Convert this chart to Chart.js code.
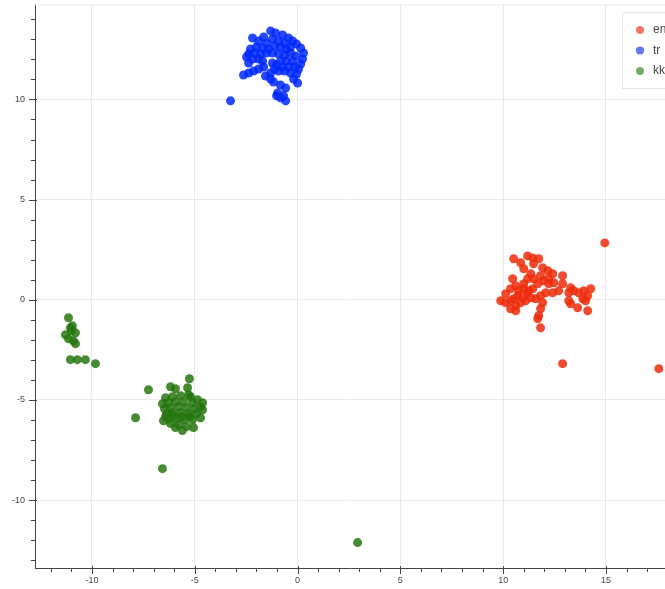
<!DOCTYPE html>
<html>
<head>
<meta charset="utf-8">
<script src="https://cdn.jsdelivr.net/npm/chart.js@4"></script>
<style>
html,body{margin:0;padding:0;background:#fff;}
#wrap{width:665px;height:589px;}
</style>
</head>
<body>
<div id="wrap"><canvas id="c" width="665" height="589"></canvas></div>
<script>
const seriesNames = ["en", "tr", "kk"];
const seriesColors = ["rgba(238,44,10,0.85)", "rgba(0,40,255,0.85)", "rgba(38,118,14,0.85)"];
const legendColors = ["rgba(238,60,40,0.7)", "rgba(30,60,240,0.7)", "rgba(60,140,40,0.7)"];

const enX = [14.94,10.51,11.19,11.44,11.73,10.85,11.00,11.48,11.92,12.17,12.41,12.46,12.21,11.97,11.82,12.89,12.89,13.28,13.43,13.67,13.92,14.26,14.11,13.87,13.19,13.19,13.28,13.62,14.01,14.11,12.70,12.41,12.07,11.82,11.92,11.82,11.73,11.68,11.82,11.58,11.34,11.19,11.44,11.00,11.00,10.46,10.61,10.36,10.12,9.88,10.12,10.36,10.51,10.71,10.75,10.95,10.85,10.61,10.36,10.61,11.09,11.24,11.68,11.48,12.21,11.34,11.19,12.89,17.57];
const enY = [2.84,2.05,2.19,2.09,2.05,1.85,1.55,1.80,1.60,1.45,1.30,0.85,0.80,0.95,1.20,1.20,0.80,0.60,0.45,0.35,0.45,0.55,0.20,0.05,0.35,-0.05,-0.20,-0.40,-0.05,-0.55,0.45,0.35,0.35,0.20,-0.15,-0.45,-0.80,-0.95,-1.40,0.05,0.10,0.35,0.55,0.55,0.80,1.05,0.70,0.55,0.30,-0.05,-0.15,-0.05,0.05,0.20,0.45,0.10,-0.15,-0.30,-0.45,-0.55,-0.05,0.45,0.80,1.05,1.05,1.30,1.05,-3.19,-3.44];

const trX = [-1.31,-1.07,-0.73,-0.44,-0.24,-0.05,0.15,0.29,0.24,0.15,0.05,-0.05,-0.19,0.00,-2.19,-1.90,-1.65,-1.51,-1.22,-0.92,-0.63,-0.34,-0.54,-0.83,-1.12,-1.41,-1.70,-2.00,-2.29,-2.38,-2.09,-1.80,-1.51,-1.22,-0.92,-0.63,-0.34,-0.10,-0.24,-0.54,-0.83,-1.02,-1.22,-1.70,-1.90,-2.19,-2.48,-2.38,-0.73,-0.44,-0.15,-0.34,-0.63,-0.92,-1.12,-1.31,-2.63,-2.38,-2.14,-1.90,-1.65,-1.56,-1.31,-1.17,-0.83,-0.58,-0.97,-0.68,-0.83,-0.58,-1.02,-3.26];
const trY = [13.42,13.32,13.22,13.07,12.92,12.77,12.57,12.32,12.02,11.77,11.52,11.27,11.02,10.82,13.07,12.92,13.12,12.82,13.02,12.92,12.82,12.62,12.52,12.62,12.67,12.52,12.57,12.62,12.52,12.27,12.32,12.27,12.32,12.32,12.27,12.22,12.32,12.17,11.92,11.92,11.92,11.72,11.82,11.92,12.02,12.02,12.12,11.82,11.62,11.62,11.62,11.32,11.42,11.42,11.52,11.32,11.22,11.32,11.42,11.52,11.62,11.17,11.02,10.87,10.72,10.57,10.32,10.18,10.08,9.93,10.18,9.93];

const kkX = [-5.26,-6.18,-5.94,-5.35,-5.30,-7.25,-7.88,-6.57,2.92,-6.42,-6.08,-5.69,-5.21,-4.87,-4.62,-6.57,-6.28,-5.94,-5.55,-5.11,-4.72,-6.47,-6.18,-5.79,-5.40,-5.01,-4.62,-6.37,-6.08,-5.69,-5.30,-4.91,-4.72,-6.52,-6.23,-5.89,-5.50,-5.11,-6.18,-5.79,-5.40,-5.06,-5.60,-5.94,-6.42,-6.03,-5.64,-5.26,-11.14,-10.95,-11.00,-10.80,-11.29,-11.14,-10.90,-10.80,-11.05,-11.05,-10.71,-10.32,-9.83];
const kkY = [-3.94,-4.34,-4.44,-4.39,-4.74,-4.49,-5.89,-8.43,-12.12,-4.89,-4.84,-4.79,-4.84,-4.99,-5.14,-5.19,-5.14,-5.09,-5.09,-5.14,-5.34,-5.44,-5.39,-5.34,-5.39,-5.44,-5.49,-5.69,-5.64,-5.64,-5.69,-5.69,-5.89,-6.04,-5.94,-5.94,-5.99,-5.99,-6.18,-6.24,-6.33,-6.38,-6.53,-6.38,-5.84,-5.79,-5.84,-5.84,-0.90,-1.30,-1.55,-1.65,-1.75,-1.95,-2.05,-2.19,-1.40,-2.99,-2.99,-2.99,-3.19];

const majorStep = 5;
const xMin = -12.77, xMax = 17.87;
const yMin = -13.39, yMax = 14.74;

function pts(xs, ys){ return xs.map((x,i)=>({x:x, y:ys[i]})); }
const seriesData = [pts(enX,enY), pts(trX,trY), pts(kkX,kkY)];

const tickPlugin = {
  id: 'bokehTicks',
  afterLayout(chart){
    const a = chart.chartArea, s = chart.scales.x;
    a.right = chart.width; a.width = a.right - a.left;
    s.right = chart.width; s.width = s.right - s.left;
    s.configure();
  },
  beforeDatasetsDraw(chart){
    const ctx = chart.ctx, a = chart.chartArea;
    ctx.save();
    ctx.strokeStyle = '#ececec';
    ctx.lineWidth = 1;
    ctx.beginPath();
    ctx.moveTo(a.left, a.top + 0.5); ctx.lineTo(a.right, a.top + 0.5);
    ctx.stroke();
    ctx.restore();
  },
  afterDraw(chart){
    const ctx = chart.ctx, a = chart.chartArea;
    const xs = chart.scales.x, ys = chart.scales.y;
    ctx.save();
    ctx.strokeStyle = '#444';
    ctx.lineWidth = 1;
    ctx.beginPath();
    for (let v = Math.ceil(xMin); v <= Math.floor(xMax); v++){
      const p = Math.round(xs.getPixelForValue(v)) + 0.5;
      const major = v % majorStep === 0;
      ctx.moveTo(p, a.bottom + (major ? -2 : 0));
      ctx.lineTo(p, a.bottom + (major ? 6 : 4));
    }
    for (let v = Math.ceil(yMin); v <= Math.floor(yMax); v++){
      const p = Math.round(ys.getPixelForValue(v)) + 0.5;
      const major = v % majorStep === 0;
      ctx.moveTo(a.left - (major ? 6 : 4), p);
      ctx.lineTo(a.left + (major ? 2 : 0), p);
    }
    ctx.stroke();

    // legend
    const lx = 622.5, ly = 12.5, lw = 80, lh = 76;
    ctx.fillStyle = 'rgba(255,255,255,0.95)';
    ctx.fillRect(lx, ly, lw, lh);
    ctx.strokeStyle = '#e6e6e6';
    ctx.strokeRect(lx, ly, lw, lh);
    ctx.font = '12px "Liberation Sans", Arial, sans-serif';
    ctx.textBaseline = 'middle';
    chart.data.datasets.forEach((ds, i) => {
      const cy = 30 + i * 20.5;
      ctx.beginPath();
      ctx.fillStyle = legendColors[i];
      ctx.arc(640, cy, 4, 0, Math.PI * 2);
      ctx.fill();
      ctx.fillStyle = '#444';
      ctx.fillText(ds.label, 653, cy);
    });
    ctx.restore();
  }
};

const gridColor = (c) => (c.tick && Math.abs(c.tick.value % majorStep) < 1e-9) ? '#e9e9e9' : 'rgba(0,0,0,0)';
const tickCb = (v) => (Math.abs(v % majorStep) < 1e-9) ? String(v) : '';
function noPad(s){ s.paddingTop = 0; s.paddingBottom = 0; s.paddingLeft = 0; s.paddingRight = 0; }

new Chart(document.getElementById('c'), {
  type: 'scatter',
  data: {
    datasets: seriesNames.map((n, i) => ({
      label: n,
      data: seriesData[i],
      backgroundColor: seriesColors[i],
      borderColor: seriesColors[i],
      borderWidth: 0,
      pointRadius: 4.5,
      pointHoverRadius: 4.5
    }))
  },
  options: {
    responsive: false,
    animation: false,
    events: [],
    layout: { padding: { top: 4, right: 0, left: 0, bottom: 0 } },
    plugins: { legend: { display: false }, tooltip: { enabled: false } },
    scales: {
      x: {
        type: 'linear', min: xMin, max: xMax,
        afterFit(s){ s.height = 21; noPad(s); },
        border: { display: true, color: '#444', width: 1 },
        grid: { color: gridColor, drawTicks: false, lineWidth: 1 },
        ticks: { stepSize: 1, includeBounds: false, autoSkip: false, maxRotation: 0, padding: 7, callback: tickCb,
                 color: '#444', font: { size: 9, family: '"Liberation Sans", Arial, sans-serif' } }
      },
      y: {
        type: 'linear', min: yMin, max: yMax,
        afterFit(s){ s.width = 35; noPad(s); },
        border: { display: true, color: '#444', width: 1 },
        grid: { color: gridColor, drawTicks: false, lineWidth: 1 },
        ticks: { stepSize: 1, includeBounds: false, autoSkip: false, padding: 10, callback: tickCb,
                 color: '#444', font: { size: 9, family: '"Liberation Sans", Arial, sans-serif' } }
      }
    }
  },
  plugins: [tickPlugin]
});
</script>
</body>
</html>
